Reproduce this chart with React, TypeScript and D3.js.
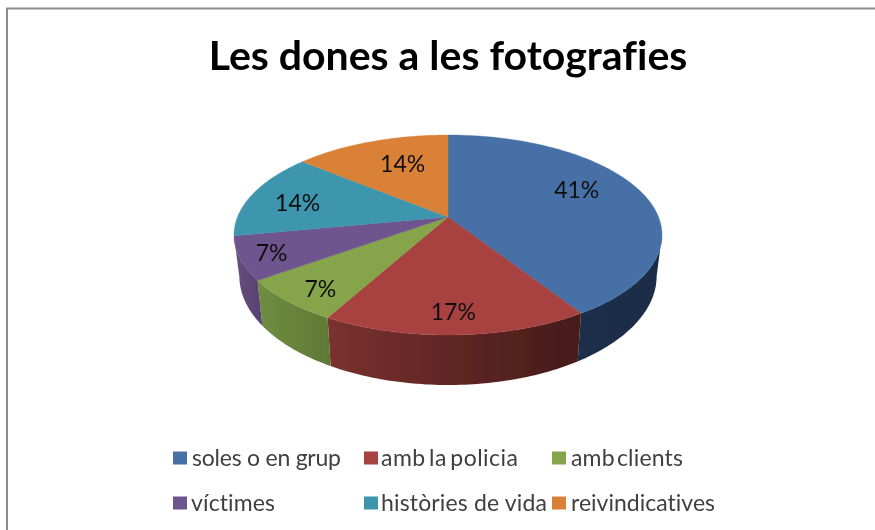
import React from "react";
import * as d3 from "d3";

const categories = ["soles o en grup", "amb la policia", "amb clients", "víctimes", "històries de vida", "reivindicatives"];
const shares = [41, 17, 7, 7, 14, 14];
const topColors = ["#4670a7", "#a8423f", "#86a44a", "#6e548d", "#3d96ae", "#da8137"];
const wallStart = ["#1a2e45", "#451b19", "#607a36", "#5a4272", "#2c6f82", "#a8622a"];
const wallEnd = ["#1b2f49", "#7a312f", "#6f8d42", "#67507f", "#2c6f82", "#a8622a"];
const title = "Les dones a les fotografies";

const width = 875;
const height = 530;
const cx = 448;
const cy = 217;
// perspective of the tilted disc
const persp = -0.18;
const scaleX = 210.5;
const scaleY = 96.76;
// the part of the rim that faces the viewer
const wallFrom = (100.4 * Math.PI) / 180;
const wallTo = (259.6 * Math.PI) / 180;

// nudges so the percent labels land where the original has them
const labelNudge = [[-8, -9], [0, 17], [-20, 16], [-34, 8], [-12, 2], [11, 2]];
const legendX = [192, 381, 571, 191, 381, 571];
const legendW = [149, 137, 112, 84, 166, 144];
const legendGap = [0, -3, -4, 0, 0, 0];
const swatchX = [173, 364, 552, 173, 364, 552];
const legendY = [458, 458, 458, 503, 503, 503];

const project = (theta: number, r = 1): [number, number] => {
  const u = r * Math.sin(theta);
  const v = -r * Math.cos(theta);
  const w = 1 + persp * v;
  return [cx + (scaleX * u) / w, cy + (scaleY * v) / w];
};

const lowerRim = (theta: number): [number, number] => {
  const [x, y] = project(theta);
  return [cx + (x - cx) * 0.975, y + 50 - 0.09 * (335 - y)];
};

const line = d3.line();
const slices = d3.pie<number>().sort(null)(shares);
const step = Math.PI / 180;

const arcAngles = (a0: number, a1: number) => {
  const n = Math.max(2, Math.ceil((a1 - a0) / step));
  return d3.range(n + 1).map((i) => a0 + ((a1 - a0) * i) / n);
};

const walls = slices
  .map((s, i) => ({ i, a0: Math.max(s.startAngle, wallFrom), a1: Math.min(s.endAngle, wallTo) }))
  .filter((d) => d.a1 > d.a0);

export default function App() {
  const font = "Lato, Carlito, sans-serif";
  const noLig = { fontVariantLigatures: "none" } as React.CSSProperties;
  return (
    <svg width={width} height={height} style={{ position: "absolute", left: 0, top: 0, background: "#fff" }}>
      <defs>
        <filter id="soft" x="0" y="0" width="100%" height="100%">
          <feGaussianBlur stdDeviation="0.6" />
        </filter>
        {walls.map((d) => (
          <linearGradient
            key={d.i}
            id={`wall${d.i}`}
            gradientUnits="userSpaceOnUse"
            x1={project(d.a0)[0]}
            x2={project(d.a1)[0]}
            y1={0}
            y2={0}
          >
            <stop offset="0%" stopColor={wallStart[d.i]} />
            <stop offset="100%" stopColor={wallEnd[d.i]} />
          </linearGradient>
        ))}
      </defs>
      <g filter="url(#soft)">
        <rect width={width} height={height} fill="#fff" />
        <path d={line([[7, height], [7, 8.5], [width, 8.5]]) as string} fill="none" stroke="#8c8c8c" strokeWidth={2} />
        <text x={448} y={70} textAnchor="middle" fontFamily={font} fontWeight={700} fontSize={41} fill="#000" style={noLig}>
          {title}
        </text>
        {walls.map((d) => {
          const angles = arcAngles(d.a0, d.a1);
          return (
            <path
              key={d.i}
              d={line([...angles.map((a) => project(a)), ...angles.slice().reverse().map(lowerRim)]) + "Z"}
              fill={`url(#wall${d.i})`}
            />
          );
        })}
        {slices.map((s, i) => (
          <path
            key={i}
            d={line([[cx, cy], ...arcAngles(s.startAngle, s.endAngle).map((a) => project(a))]) + "Z"}
            fill={topColors[i]}
            stroke={topColors[i]}
            strokeWidth={0.4}
          />
        ))}
        {slices.map((s, i) => {
          const [x, y] = project((s.startAngle + s.endAngle) / 2, 0.7);
          return (
            <text
              key={i}
              x={x + labelNudge[i][0]}
              y={y + labelNudge[i][1]}
              dy="0.35em"
              textAnchor="middle"
              fontFamily={font}
              fontSize={23}
              fill="#111"
              style={noLig}
            >
              {`${shares[i]}%`}
            </text>
          );
        })}
        {categories.map((c, i) => (
          <g key={c}>
            <rect x={swatchX[i]} y={legendY[i] - 6.5} width={14} height={13} fill={topColors[i]} />
            <text
              x={legendX[i]}
              y={legendY[i]}
              dy="0.35em"
              fontFamily={font}
              fontSize={23}
              fill="#404040"
              textLength={legendW[i]}
              lengthAdjust="spacing"
              wordSpacing={legendGap[i]}
              style={noLig}
            >
              {c}
            </text>
          </g>
        ))}
      </g>
    </svg>
  );
}
